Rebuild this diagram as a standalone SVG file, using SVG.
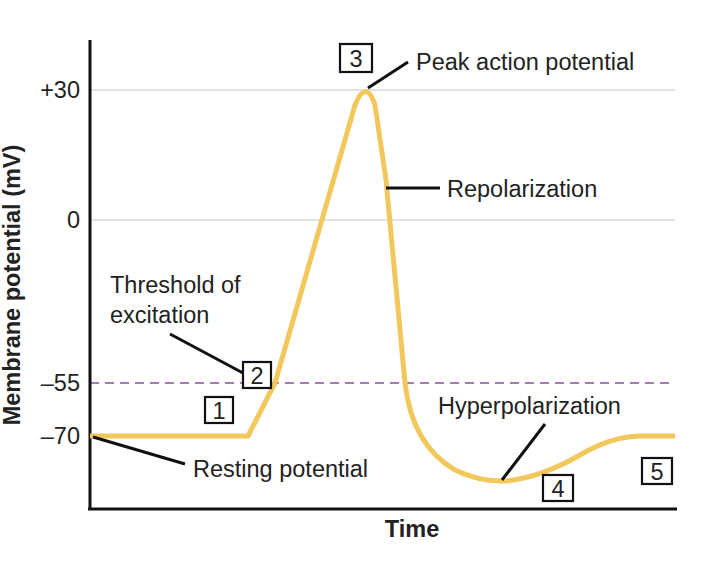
<svg xmlns="http://www.w3.org/2000/svg" width="702" height="568" viewBox="0 0 702 568">
<style>
text{font-family:"Liberation Sans",Arial,sans-serif;font-size:23.5px;fill:#222}
.grid{stroke:#c8c8c8;stroke-width:1.2}
.lead{stroke:#111;stroke-width:3;fill:none}
.box{fill:#fff;stroke:#111;stroke-width:2.2}
.bt{text-anchor:middle}
</style>
<rect width="702" height="568" fill="#fff"/>
<g id="grid">
<line class="grid" x1="90" y1="90" x2="675" y2="90"/>
<line class="grid" x1="90" y1="220" x2="675" y2="220"/>
<line x1="90" y1="383" x2="675" y2="383" stroke="#a77bb5" stroke-width="2" stroke-dasharray="9,6"/>
</g>
<g id="axes">
<line x1="90" y1="40" x2="90" y2="510" stroke="#111" stroke-width="3"/>
<line x1="88" y1="509" x2="677" y2="509" stroke="#111" stroke-width="3"/>
<text x="80" y="98" text-anchor="end">+30</text>
<text x="80" y="228" text-anchor="end">0</text>
<text x="80" y="391" text-anchor="end">–55</text>
<text x="80" y="444" text-anchor="end">–70</text>
<text transform="translate(20,285) rotate(-90)" text-anchor="middle" style="font-weight:bold">Membrane potential (mV)</text>
<text x="412" y="537" text-anchor="middle" style="font-weight:bold">Time</text>
</g>
<g id="curve">
<path d="M90,436 L248,436 L275,383 L355,105 Q366,78 375,105 L386,180 L405,383 Q412,445 455,470 Q480,482 505,481 Q540,478 580,455 Q610,437 640,436 L675,436" fill="none" stroke="#f2c75c" stroke-width="5" stroke-linejoin="round"/>
</g>
<g id="connectors">
<line class="lead" x1="368" y1="88" x2="408" y2="62"/>
<line class="lead" x1="386" y1="188" x2="440" y2="188"/>
<line class="lead" x1="170" y1="334" x2="243" y2="373"/>
<line class="lead" x1="93" y1="437" x2="185" y2="464"/>
<line class="lead" x1="545" y1="424" x2="502" y2="480"/>
</g>
<g id="labels">
<text x="416" y="70">Peak action potential</text>
<text x="447" y="197">Repolarization</text>
<text x="110" y="293">Threshold of</text>
<text x="110" y="323">excitation</text>
<text x="193" y="477">Resting potential</text>
<text x="438" y="414">Hyperpolarization</text>
</g>
<g id="n3"><rect class="box" x="340" y="44" width="32" height="28"/><text class="bt" x="356" y="67">3</text></g>
<g id="n2"><rect class="box" x="243" y="362" width="28" height="26"/><text class="bt" x="257" y="384">2</text></g>
<g id="n1"><rect class="box" x="205" y="397" width="28" height="26"/><text class="bt" x="219" y="419">1</text></g>
<g id="n4"><rect class="box" x="543" y="475" width="30" height="26"/><text class="bt" x="558" y="497">4</text></g>
<g id="n5"><rect class="box" x="642" y="458" width="30" height="26"/><text class="bt" x="657" y="480">5</text></g>
</svg>
